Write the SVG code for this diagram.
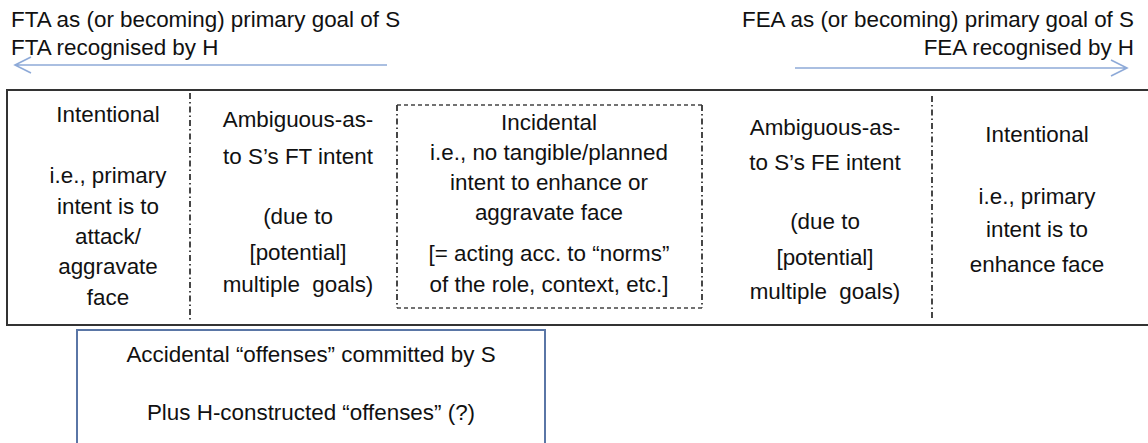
<svg xmlns="http://www.w3.org/2000/svg" width="1148" height="443" viewBox="0 0 1148 443">
<style>
text{font-family:"Liberation Sans",Arial,sans-serif;font-size:22.4px;fill:#111}
.c{text-anchor:middle}
.e{text-anchor:end}
.pre{white-space:pre}
.arrow{stroke:#8eaad8;stroke-width:1.6;fill:none}
.dd{stroke:#333;stroke-width:1.8;stroke-dasharray:6 3 1.5 3;fill:none}
.dh{stroke:#444;stroke-width:1.5;stroke-dasharray:4 3;fill:none}
</style>
<rect width="1148" height="443" fill="#fff"/>
<g id="top-left">
<text x="11" y="27">FTA as (or becoming) primary goal of S</text>
<text x="11" y="55">FTA recognised by H</text>
</g>
<g id="top-right">
<text class="e" x="1134" y="27">FEA as (or becoming) primary goal of S</text>
<text class="e" x="1134" y="55">FEA recognised by H</text>
</g>
<g id="connectors">
<path class="arrow" d="M387 65 H15 M31 57 L15 65 L31 73"/>
<path class="arrow" d="M795 68 H1127 M1111 60 L1127 68 L1111 76"/>
</g>
<g id="main-box">
<rect x="7" y="90" width="1145" height="235" fill="none" stroke="#333" stroke-width="2"/>
<line class="dd" x1="190" y1="93" x2="190" y2="320"/>
<line class="dd" x1="932" y1="96" x2="932" y2="318"/>
</g>
<g id="col-intentional-ft">
<text class="c" x="108" y="122">Intentional</text>
<text class="c" x="108" y="183">i.e., primary</text>
<text class="c" x="108" y="214">intent is to</text>
<text class="c" x="108" y="244">attack/</text>
<text class="c" x="108" y="274">aggravate</text>
<text class="c" x="108" y="305">face</text>
</g>
<g id="col-ambiguous-ft">
<text class="c" x="298" y="127">Ambiguous-as-</text>
<text class="c" x="298" y="164">to S’s FT intent</text>
<text class="c" x="298" y="224">(due to</text>
<text class="c" x="298" y="260">[potential]</text>
<text class="c pre" x="298" y="292">multiple  goals)</text>
</g>
<g id="col-incidental">
<line class="dh" x1="397" y1="105" x2="702" y2="105"/>
<line class="dh" x1="397" y1="308" x2="702" y2="308"/>
<line class="dd" x1="397" y1="105" x2="397" y2="308"/>
<line class="dd" x1="702" y1="105" x2="702" y2="308"/>
<text class="c" x="549" y="130">Incidental</text>
<text class="c" x="549" y="160">i.e., no tangible/planned</text>
<text class="c" x="549" y="190">intent to enhance or</text>
<text class="c" x="549" y="220">aggravate face</text>
<text class="c" x="549" y="261">[= acting acc. to “norms”</text>
<text class="c" x="549" y="292">of the role, context, etc.]</text>
</g>
<g id="col-ambiguous-fe">
<text class="c" x="825" y="135">Ambiguous-as-</text>
<text class="c" x="825" y="170">to S’s FE intent</text>
<text class="c" x="825" y="229">(due to</text>
<text class="c" x="825" y="265">[potential]</text>
<text class="c pre" x="825" y="299">multiple  goals)</text>
</g>
<g id="col-intentional-fe">
<text class="c" x="1037" y="142">Intentional</text>
<text class="c" x="1037" y="204">i.e., primary</text>
<text class="c" x="1037" y="237">intent is to</text>
<text class="c" x="1037" y="272">enhance face</text>
</g>
<g id="accidental-box">
<rect x="77" y="330" width="468" height="125" fill="none" stroke="#5a76a6" stroke-width="2"/>
<text class="c" x="311" y="362">Accidental “offenses” committed by S</text>
<text class="c" x="311" y="420">Plus H-constructed “offenses” (?)</text>
</g>
</svg>
